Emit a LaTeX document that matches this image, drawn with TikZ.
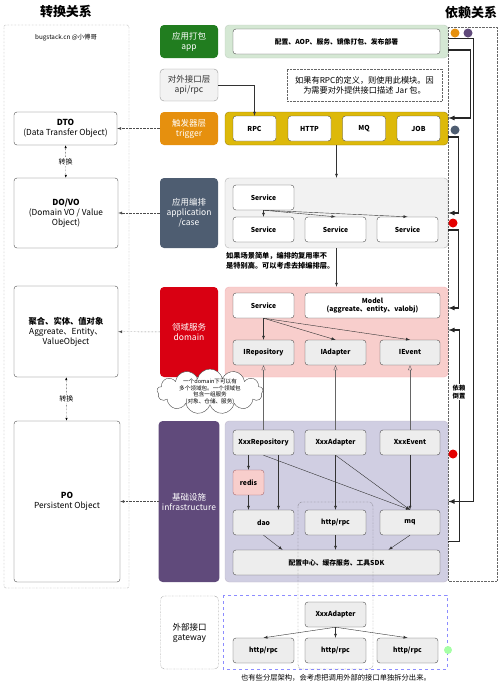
\documentclass[tikz,border=0pt]{standalone}
\usepackage{fontspec}
\setmainfont{Noto Sans CJK SC}
\usetikzlibrary{arrows.meta,shapes.symbols}
\definecolor{appgreen}{HTML}{217D1F}
\definecolor{appband}{HTML}{D5E8D4}
\definecolor{trigorange}{HTML}{E6900E}
\definecolor{trigband}{HTML}{DDB90A}
\definecolor{caseslate}{HTML}{4E5D71}
\definecolor{domred}{HTML}{D90012}
\definecolor{domband}{HTML}{F8CECC}
\definecolor{infpurple}{HTML}{604A7B}
\definecolor{infband}{HTML}{D0CEE2}

\begin{document}
\begin{tikzpicture}[x=1pt, y=-1pt, >=latex,
    layer/.style={rounded corners=4pt, minimum width=58pt, text=white, align=center, font=\fontsize{8.5}{10}\selectfont},
    band/.style={draw, rounded corners=4pt, minimum width=223pt},
    item/.style={draw=black!70, rounded corners=3pt, fill=white, minimum width=61pt, minimum height=25pt, align=center, font=\bfseries\fontsize{6.8}{8.5}\selectfont},
    iface/.style={item, fill=black!7},
    obj/.style={draw=black!70, rounded corners=3pt, fill=white, align=center, font=\fontsize{8.3}{10}\selectfont},
    wire/.style={->, line width=1.2pt, black!85},
    flow/.style={->, black!80},
    map/.style={->, densely dotted, black!70},
    dot/.style={circle, inner sep=0pt, minimum size=9pt}
  ]
\useasboundingbox (0,0) rectangle (500,689);

% 转换关系
\node[font=\bfseries\fontsize{13}{15}\selectfont] (lefttitle) at (66,12) {转换关系};
\draw[densely dotted, black!60, rounded corners=2pt] (4,25) rectangle (129,588);
\node[font=\fontsize{6.3}{7.5}\selectfont] (credit) at (66,38) {bugstack.cn @小傅哥};
\node[obj, minimum width=103pt, minimum height=33pt] (dto) at (65.5,128.5) {\textbf{DTO}\\(Data Transfer Object)};
\node[obj, minimum width=104pt, minimum height=70pt] (dovo) at (66,213) {\textbf{DO/VO}\\(Domain VO / Value\\Object)};
\node[obj, minimum width=104pt, minimum height=91pt] (agg) at (66,331.5) {\textbf{聚合、实体、值对象}\\Aggreate、Entity、\\ValueObject};
\node[obj, minimum width=106pt, minimum height=161pt] (po) at (67,501.5) {\textbf{PO}\\Persistent Object};
\draw[densely dotted, {Latex[length=3pt]}-{Latex[length=3pt]}] (dto) -- node[fill=white, inner sep=1pt, font=\fontsize{7}{8}\selectfont] {转换} (dovo);
\draw[densely dotted, {Latex[length=3pt]}-{Latex[length=3pt]}] (agg) -- node[fill=white, inner sep=1pt, font=\fontsize{7}{8}\selectfont] {转换} (po);

% layers
\node[layer, fill=appgreen, minimum height=33pt] (app) at (189,41.5) {应用打包\\app};
\node[layer, draw=black!40, fill=black!5, text=black!80, minimum height=32pt] (api) at (189,85) {对外接口层\\api/rpc};
\node[layer, fill=trigorange, minimum height=33pt] (trig) at (189,128.5) {触发器层\\trigger};
\node[layer, fill=caseslate, minimum height=70pt] (case) at (189,213) {应用编排\\application\\/case};
\node[layer, fill=domred, minimum height=90pt] (dom) at (189,332) {领域服务\\domain};
\node[layer, fill=infpurple, minimum height=161pt] (inf) at (189,501.5) {基础设施\\infrastructure};
\node[layer, draw=black!70, densely dotted, text=black, minimum height=73pt] (gw) at (189.5,632.5) {外部接口\\gateway};

\foreach \l/\o in {trig/dto, case/dovo, dom/agg, inf/po}
    \draw[map] (\l) -- (\o);

% bands
\node[band, draw=green!25!black!25, fill=appband, minimum height=33pt] (appC) at (336.5,41.5) {};
\node[band, draw=trigband!70!black, fill=trigband, minimum height=33pt] (trigC) at (336.5,128.5) {};
\node[band, draw=black!30, fill=black!5, minimum height=70pt] (caseC) at (336.5,213) {};
\node[band, draw=domred!30, fill=domband, minimum height=90pt] (domC) at (336.5,332) {};
\node[band, draw=infpurple!40, fill=infband, minimum height=161pt] (infC) at (336.5,501.5) {};

\node[item, minimum width=207pt, font=\bfseries\fontsize{6.8}{8}\selectfont] (deploy) at (336.5,41.5) {配置、AOP、服务、镜像打包、发布部署};
\node[draw=black!60, densely dotted, minimum width=155pt, minimum height=32pt, align=center, font=\fontsize{8.2}{10}\selectfont] (rpcnote) at (364.5,85) {如果有RPC的定义，则使用此模块。因\\为需要对外提供接口描述 Jar 包。};

\foreach \n/\t/\x in {rpc/RPC/254.5, http1/HTTP/309.5, mq1/MQ/364, job/JOB/418.5}
    \node[item, minimum width=43pt] (\n) at (\x,128.5) {\t};

\node[item] (stop) at (263.5,197.5) {Service};
\foreach \n/\x in {s1/263.5, s2/335.5, s3/407.5}
    \node[item] (\n) at (\x,229.5) {Service};
\node[anchor=north west, inner sep=0pt, align=left, font=\bfseries\fontsize{7.2}{9.5}\selectfont] (casenote) at (226,252.5) {如果场景简单，编排的复用率不\\是特别高。可以考虑去掉编排层。};

\node[item] (dserv) at (263.5,305.5) {Service};
\node[item, minimum width=135pt] (model) at (372.5,305.5) {Model\\(aggreate、entity、valobj)};
\node[iface] (irepo) at (263.5,352.5) {IRepository};
\node[iface] (iadapt) at (335.5,352.5) {IAdapter};
\node[iface, minimum width=60pt] (ievent) at (410,352.5) {IEvent};

\node[iface] (xrepo) at (263.5,442.5) {XxxRepository};
\node[iface] (xadapt) at (335.5,442.5) {XxxAdapter};
\node[iface, minimum width=60pt] (xevent) at (410,442.5) {XxxEvent};
\node[item, draw=domred!50!black!60, fill=domband, minimum width=31pt] (redis) at (248.5,482.5) {redis};
\node[iface] (dao) at (263.5,522.5) {dao};
\node[iface] (http) at (335.5,522.5) {http/rpc};
\node[iface, minimum width=60pt] (mq) at (410,522.5) {mq};
\node[iface, minimum width=207pt] (sdk) at (336.5,562.5) {配置中心、缓存服务、工具SDK};

% gateway
\draw[dashed, blue!45] (223,595) rectangle (447,669);
\node[iface] (gadapt) at (335.5,614.5) {XxxAdapter};
\foreach \n/\x in {g1/263.5, g2/335.5, g3/407.5}
    \node[iface] (\n) at (\x,650.5) {http/rpc};
\node[dot, fill=green!35, minimum size=8pt] (handle) at (448,650) {};
\node[font=\fontsize{7.3}{9}\selectfont] (gwnote) at (336,677.5) {也有些分层架构，会考虑把调用外部的接口单独拆分出来。};

% flows
\draw[flow] (api.east) -| (rpc.north);
\draw[flow] (trigC.south) -- (caseC.north);
\draw[flow] (caseC.south) -- (domC.north);
\foreach \t in {s1, s2, s3}
    \draw[flow] (stop.south) -- (\t.north);
\foreach \t in {irepo, iadapt, ievent}
    \draw[flow] (dserv.south) -- (\t.north);
\foreach \a/\b in {xrepo/irepo, xadapt/iadapt, xevent/ievent}
    \draw[-{Triangle[open, length=5pt, width=4pt]}, black!60] (\a.north) -- (\b.south);
\draw[flow] (xrepo.south -| redis.north) -- (redis.north);
\draw[flow] (redis.south) -- (redis.south |- dao.north);
\draw[flow] ([xshift=15pt]xrepo.south) -- ([xshift=15pt]dao.north);
\draw[flow] (xrepo.south) -- (mq.north);
\draw[flow] (xadapt.south) -- (http.north);
\draw[flow] (xadapt.south) -- (mq.north);
\draw[flow] (xevent.south) -- (mq.north);
\draw[flow] (dao.south) -- ([xshift=-54pt]sdk.north);
\draw[flow] (http.south) -- (http.south |- sdk.north);
\draw[flow] (mq.south) -- ([xshift=52pt]sdk.north);
\foreach \t in {g1, g2, g3}
    \draw[flow] (gadapt.south) -- (\t.north);

\node[cloud, draw=black!70, fill=white, cloud puffs=13, aspect=2.5, inner sep=-3pt, minimum width=106pt, minimum height=44pt, align=center, font=\fontsize{5.6}{6.6}\selectfont] (cloudnote) at (210,391.5) {一个domain下可以有\\多个领域包。一个领域包\\包含一组服务\\(对象、仓储、服务)};

\draw[densely dotted, black!75, rounded corners=4pt] (298,502) rectangle (373,669);

% 依赖关系
\node[font=\bfseries\fontsize{13}{15}\selectfont] (righttitle) at (471,13) {依赖关系};
\draw[densely dotted, black!60] (448,27) -- (497,27) -- (497,581) -- (448,581);
\draw[densely dotted, black!60] (448,27) -- (448,581);
\draw[wire] ([yshift=-8.5pt]appC.east) -- ++(22,0) |- ([yshift=10.5pt]trigC.east);
\draw[wire] ([yshift=3pt]appC.east) -- ++(25,0) |- (infC.east);
\draw[wire] ([yshift=-8.5pt]trigC.east) -- ++(10,0) |- (caseC.east);
\draw[wire] ([yshift=-17pt]caseC.east) -- ++(10,0) |- ([yshift=24pt]domC.east);
\draw[wire] ([yshift=-40pt]infC.east) -- ++(11,0) |- ([yshift=2pt]domC.east);
\node[fill=white, inner sep=1pt, align=center, font=\bfseries\fontsize{6.3}{8}\selectfont] (invert) at (459,392) {依赖\\倒置};
\node[dot, fill=trigorange] (dtrig) at (455,33) {};
\node[dot, fill=infpurple] (dinf) at (468,33) {};
\node[dot, fill=caseslate] (dcase) at (455,130) {};
\node[dot, fill=red!90!black] (ddom) at (453,223) {};
\node[dot, fill=red!90!black] (ddom2) at (453,454) {};
\end{tikzpicture}
\end{document}
